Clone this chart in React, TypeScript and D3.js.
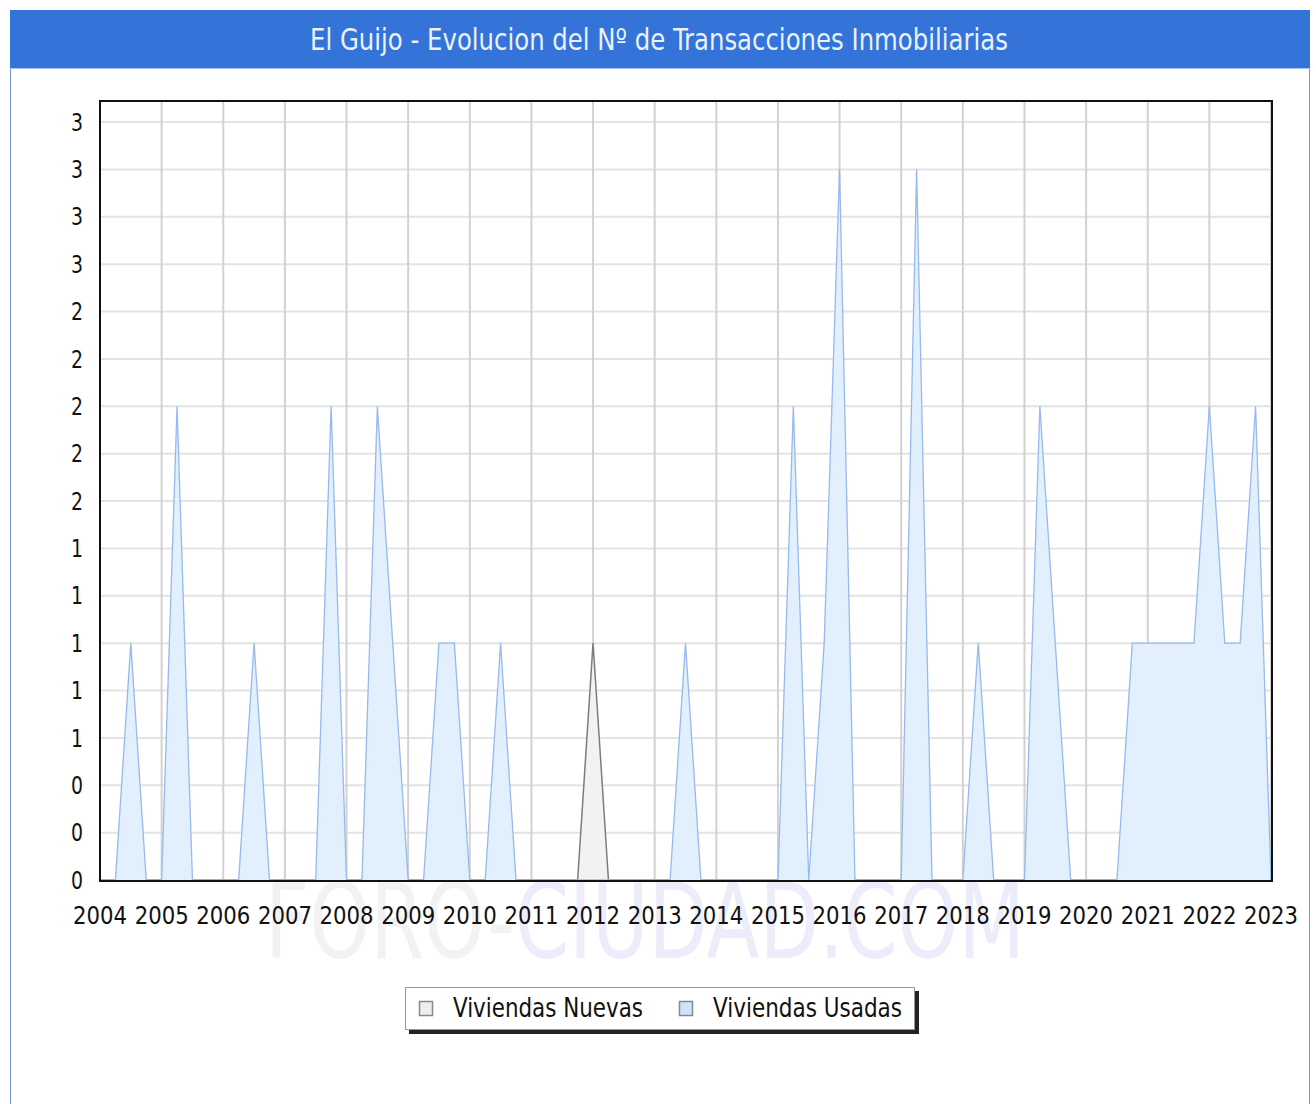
import React from "react";
import * as d3 from "d3";

const titleText = "El Guijo - Evolucion del Nº de Transacciones Inmobiliarias";
const years = [2004, 2005, 2006, 2007, 2008, 2009, 2010, 2011, 2012, 2013, 2014, 2015, 2016, 2017, 2018, 2019, 2020, 2021, 2022, 2023];
const yTicks = [0, 0.2, 0.4, 0.6, 0.8, 1.0, 1.2, 1.4, 1.6, 1.8, 2.0, 2.2, 2.4, 2.6, 2.8, 3.0, 3.2];
const yTickLabels = ["0", "0", "0", "1", "1", "1", "1", "1", "2", "2", "2", "2", "2", "3", "3", "3", "3"];

// quarterly values, 2004 Q1 .. 2023 Q1
const viviendasUsadas = [
  0, 0, 1, 0, // 2004
  0, 2, 0, 0, // 2005
  0, 0, 1, 0, // 2006
  0, 0, 0, 2, // 2007
  0, 0, 2, 1, // 2008
  0, 0, 1, 1, // 2009
  0, 0, 1, 0, // 2010
  0, 0, 0, 0, // 2011
  0, 0, 0, 0, // 2012
  0, 0, 1, 0, // 2013
  0, 0, 0, 0, // 2014
  0, 2, 0, 1, // 2015
  3, 0, 0, 0, // 2016
  0, 3, 0, 0, // 2017
  0, 1, 0, 0, // 2018
  0, 2, 1, 0, // 2019
  0, 0, 0, 1, // 2020
  1, 1, 1, 1, // 2021
  2, 1, 1, 2, // 2022
  0,          // 2023
];
const viviendasNuevas = [
  0, 0, 0, 0, // 2004
  0, 0, 0, 0, // 2005
  0, 0, 0, 0, // 2006
  0, 0, 0, 0, // 2007
  0, 0, 0, 0, // 2008
  0, 0, 0, 0, // 2009
  0, 0, 0, 0, // 2010
  0, 0, 0, 0, // 2011
  1, 0, 0, 0, // 2012
  0, 0, 0, 0, // 2013
  0, 0, 0, 0, // 2014
  0, 0, 0, 0, // 2015
  0, 0, 0, 0, // 2016
  0, 0, 0, 0, // 2017
  0, 0, 0, 0, // 2018
  0, 0, 0, 0, // 2019
  0, 0, 0, 0, // 2020
  0, 0, 0, 0, // 2021
  0, 0, 0, 0, // 2022
  0,          // 2023
];
const seriesNames = ["Viviendas Nuevas", "Viviendas Usadas"];

const W = 1316;
const H = 1104;
const plot = { left: 100, right: 1271, top: 101, bottom: 880 };
const FONT = "'DejaVu Sans Condensed', 'DejaVu Sans', sans-serif";

export default function App() {
  const nQ = viviendasUsadas.length;
  const x = d3.scaleLinear().domain([0, nQ - 1]).range([plot.left, plot.right]);
  const xYear = d3.scaleLinear().domain([years[0], years[years.length - 1]]).range([plot.left, plot.right]);
  const y = d3.scaleLinear().domain([0, 3.2]).range([plot.bottom, 122]);

  const area = d3
    .area<number>()
    .x((_, i) => x(i))
    .y0(y(0))
    .y1((d) => y(d));
  const line = d3
    .line<number>()
    .x((_, i) => x(i))
    .y((d) => y(d));

  const blue = "#3473d7";

  return (
    <svg
      width={W}
      height={H}
      style={{ position: "absolute", left: 0, top: 0, background: "#fff" }}
      fontFamily={FONT}
    >
      {/* outer frame */}
      <rect x={10.5} y={10.5} width={1299} height={1100} fill="#fff" stroke="#6f98dc" strokeWidth={1} />
      {/* title bar */}
      <rect x={10} y={10} width={1300} height={58} fill={blue} />
      <line x1={10} x2={1310} y1={68.5} y2={68.5} stroke="#a9c3ee" strokeWidth={1} />
      <text
        transform="translate(659,50) scale(1,1.15)"
        textAnchor="middle"
        fill="#eaf1ff"
        fontSize={26}
        textLength={698}
        lengthAdjust="spacingAndGlyphs"
      >
        {titleText}
      </text>

      {/* watermark */}
      <text
        x={645}
        y={958}
        textAnchor="middle"
        fontSize={106}
        textLength={760}
        lengthAdjust="spacingAndGlyphs"
      >
        <tspan fill="#f2f2f2">FORO-</tspan>
        <tspan fill="#ececfb">CIUDAD.COM</tspan>
      </text>

      {/* plot background */}
      <rect x={plot.left} y={plot.top} width={plot.right - plot.left} height={plot.bottom - plot.top} fill="#fff" />

      {/* grid */}
      {yTicks.map((t, i) => (
        <line
          key={"h" + i}
          x1={plot.left}
          x2={plot.right}
          y1={y(t)}
          y2={y(t)}
          stroke="#e3e3e3"
          strokeWidth={2}
        />
      ))}
      {years.map((yr) => (
        <line
          key={"v" + yr}
          x1={xYear(yr)}
          x2={xYear(yr)}
          y1={plot.top}
          y2={plot.bottom}
          stroke="#d2d2d2"
          strokeWidth={2}
        />
      ))}

      {/* series */}
      <path d={area(viviendasNuevas) || ""} fill="#f2f2f2" />
      <path d={line(viviendasNuevas) || ""} fill="none" stroke="#7d7d7d" strokeWidth={1.5} />
      <path d={area(viviendasUsadas) || ""} fill="#e2effd" />
      <path d={line(viviendasUsadas) || ""} fill="none" stroke="#97b9ef" strokeWidth={1.3} />

      {/* frame */}
      <rect
        x={plot.left}
        y={plot.top}
        width={plot.right - plot.left + 1}
        height={plot.bottom - plot.top + 1}
        fill="none"
        stroke="#111"
        strokeWidth={2}
      />

      {/* y labels */}
      {yTicks.map((t, i) => (
        <text
          key={"yl" + i}
          transform={`translate(83,${y(t)}) scale(1,1.15)`}
          dy="0.36em"
          textAnchor="end"
          fontSize={21}
          fill="#111"
        >
          {yTickLabels[i]}
        </text>
      ))}

      {/* x labels */}
      {years.map((yr) => (
        <text
          key={"xl" + yr}
          transform={`translate(${xYear(yr)},924) scale(1,1.2)`}
          textAnchor="middle"
          fontSize={21}
          fill="#111"
          textLength={54}
          lengthAdjust="spacingAndGlyphs"
        >
          {String(yr)}
        </text>
      ))}

      {/* legend */}
      <rect x={409} y={991} width={510} height={43} fill="#222" />
      <rect x={405.5} y={987.5} width={509} height={42} fill="#fff" stroke="#999" strokeWidth={1} />
      <rect x={419.5} y={1001.5} width={13} height={14} fill="#eeeeee" stroke="#888" strokeWidth={1.5} />
      <text
        transform="translate(453,1017) scale(1,1.15)"
        fontSize={23}
        fill="#111"
        textLength={190}
        lengthAdjust="spacingAndGlyphs"
      >
        {seriesNames[0]}
      </text>
      <rect x={679.5} y={1001.5} width={13} height={14} fill="#cce5ff" stroke="#888" strokeWidth={1.5} />
      <text
        transform="translate(713,1017) scale(1,1.15)"
        fontSize={23}
        fill="#111"
        textLength={189}
        lengthAdjust="spacingAndGlyphs"
      >
        {seriesNames[1]}
      </text>
    </svg>
  );
}
